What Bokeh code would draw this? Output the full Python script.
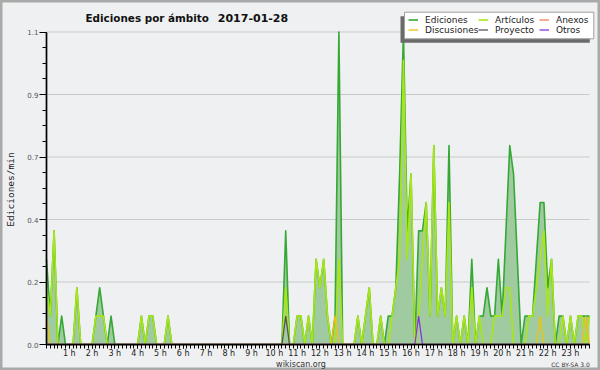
import math
from bokeh.plotting import figure
from bokeh.models import (Range1d, FixedTicker, Legend, LegendItem, Label,
                          ColumnDataSource)
from bokeh.embed import file_html
from bokeh.resources import INLINE

# ---------------- data (Ediciones/min, one value per 10-minute slot) ----------------
title_text = "Ediciones por ámbito"
date_text = "2017-01-28"
y_axis_label = "Ediciones/min"
footer_site = "wikiscan.org"
footer_license = "CC BY-SA 3.0"

slot_minutes = list(range(0, 1440, 10))  # 144 ten-minute slots

ediciones = [
    0.3, 0.1, 0.4, 0.0, 0.1, 0.0,  0.0, 0.0, 0.2, 0.0, 0.0, 0.0,   # 0h-1h
    0.0, 0.1, 0.2, 0.1, 0.0, 0.1,  0.0, 0.0, 0.0, 0.0, 0.0, 0.0,   # 2h-3h
    0.0, 0.1, 0.0, 0.1, 0.1, 0.0,  0.0, 0.0, 0.1, 0.0, 0.0, 0.0,   # 4h-5h
    0.0, 0.0, 0.0, 0.0, 0.0, 0.0,  0.0, 0.0, 0.0, 0.0, 0.0, 0.0,   # 6h-7h
    0.0, 0.0, 0.0, 0.0, 0.0, 0.0,  0.0, 0.0, 0.0, 0.0, 0.0, 0.0,   # 8h-9h
    0.0, 0.0, 0.0, 0.4, 0.0, 0.0,  0.1, 0.1, 0.0, 0.1, 0.0, 0.3,   # 10h-11h
    0.2, 0.3, 0.1, 0.0, 0.1, 1.1,  0.0, 0.0, 0.0, 0.0, 0.1, 0.0,   # 12h-13h
    0.1, 0.2, 0.0, 0.0, 0.1, 0.0,  0.1, 0.1, 0.2, 0.6, 1.1, 0.4,   # 14h-15h
    0.6, 0.0, 0.4, 0.4, 0.5, 0.1,  0.7, 0.1, 0.2, 0.1, 0.7, 0.0,   # 16h-17h
    0.1, 0.0, 0.1, 0.0, 0.3, 0.0,  0.1, 0.1, 0.2, 0.1, 0.1, 0.3,   # 18h-19h
    0.1, 0.4, 0.7, 0.6, 0.3, 0.0,  0.1, 0.1, 0.1, 0.3, 0.5, 0.5,   # 20h-21h
    0.2, 0.3, 0.0, 0.1, 0.1, 0.0,  0.1, 0.0, 0.1, 0.1, 0.1, 0.1,   # 22h-23h
]

articulos = [
    0.2, 0.1, 0.4, 0.0, 0.0, 0.0,  0.0, 0.0, 0.2, 0.0, 0.0, 0.0,
    0.0, 0.1, 0.1, 0.1, 0.0, 0.0,  0.0, 0.0, 0.0, 0.0, 0.0, 0.0,
    0.0, 0.1, 0.0, 0.1, 0.1, 0.0,  0.0, 0.0, 0.1, 0.0, 0.0, 0.0,
    0.0, 0.0, 0.0, 0.0, 0.0, 0.0,  0.0, 0.0, 0.0, 0.0, 0.0, 0.0,
    0.0, 0.0, 0.0, 0.0, 0.0, 0.0,  0.0, 0.0, 0.0, 0.0, 0.0, 0.0,
    0.0, 0.0, 0.0, 0.2, 0.0, 0.0,  0.1, 0.1, 0.0, 0.1, 0.0, 0.3,
    0.2, 0.3, 0.1, 0.0, 0.0, 0.3,  0.0, 0.0, 0.0, 0.0, 0.1, 0.0,
    0.1, 0.2, 0.0, 0.0, 0.1, 0.0,  0.0, 0.1, 0.2, 0.3, 1.0, 0.3,
    0.6, 0.0, 0.1, 0.3, 0.5, 0.1,  0.7, 0.1, 0.2, 0.1, 0.5, 0.0,
    0.1, 0.0, 0.1, 0.0, 0.2, 0.0,  0.1, 0.0, 0.0, 0.0, 0.1, 0.1,
    0.1, 0.2, 0.2, 0.0, 0.0, 0.0,  0.0, 0.1, 0.1, 0.2, 0.3, 0.4,
    0.1, 0.3, 0.0, 0.0, 0.1, 0.0,  0.1, 0.0, 0.1, 0.1, 0.0, 0.1,
]

anexos = [
    0, 0, 0, 0, 0, 0,  0, 0, 0, 0, 0, 0,
    0, 0, 0, 0, 0, 0,  0, 0, 0, 0, 0, 0,
    0, 0, 0, 0, 0, 0,  0, 0, 0, 0, 0, 0,
    0, 0, 0, 0, 0, 0,  0, 0, 0, 0, 0, 0,
    0, 0, 0, 0, 0, 0,  0, 0, 0, 0, 0, 0,
    0, 0, 0, 0, 0, 0,  0, 0, 0, 0, 0, 0,
    0, 0, 0, 0, 0, 0,  0, 0, 0, 0, 0, 0,
    0, 0, 0, 0, 0, 0,  0, 0, 0, 0, 0, 0,
    0, 0, 0, 0, 0, 0,  0, 0, 0, 0, 0, 0,
    0, 0, 0, 0, 0, 0,  0, 0, 0, 0, 0, 0,
    0, 0, 0, 0, 0, 0,  0, 0, 0, 0, 0, 0,
    0, 0, 0, 0, 0, 0,  0, 0, 0, 0, 0, 0,
]

discusiones = [
    0.1, 0, 0, 0, 0, 0,  0, 0, 0, 0, 0, 0,
    0, 0, 0, 0, 0, 0,  0, 0, 0, 0, 0, 0,
    0, 0, 0, 0, 0, 0,  0, 0, 0, 0, 0, 0,
    0, 0, 0, 0, 0, 0,  0, 0, 0, 0, 0, 0,
    0, 0, 0, 0, 0, 0,  0, 0, 0, 0, 0, 0,
    0, 0, 0, 0, 0, 0,  0, 0, 0, 0, 0, 0,
    0, 0, 0, 0, 0.1, 0,  0, 0, 0, 0, 0, 0,
    0, 0, 0, 0, 0, 0,  0, 0, 0, 0, 0, 0,
    0, 0, 0, 0, 0, 0,  0, 0, 0, 0, 0, 0,
    0, 0, 0, 0, 0, 0,  0, 0, 0, 0, 0, 0,
    0, 0, 0, 0, 0, 0,  0, 0, 0, 0, 0.1, 0,
    0, 0, 0, 0, 0, 0,  0, 0, 0, 0, 0.1, 0,
]

proyecto = [
    0, 0, 0, 0, 0, 0,  0, 0, 0, 0, 0, 0,
    0, 0, 0, 0, 0, 0,  0, 0, 0, 0, 0, 0,
    0, 0, 0, 0, 0, 0,  0, 0, 0, 0, 0, 0,
    0, 0, 0, 0, 0, 0,  0, 0, 0, 0, 0, 0,
    0, 0, 0, 0, 0, 0,  0, 0, 0, 0, 0, 0,
    0, 0, 0, 0.1, 0, 0,  0, 0, 0, 0, 0, 0,
    0, 0, 0, 0, 0, 0,  0, 0, 0, 0, 0, 0,
    0, 0, 0, 0, 0, 0,  0, 0, 0, 0, 0, 0,
    0, 0, 0, 0, 0, 0,  0, 0, 0, 0, 0, 0,
    0, 0, 0, 0, 0, 0,  0, 0, 0, 0, 0, 0,
    0, 0, 0, 0, 0, 0,  0, 0, 0, 0, 0, 0,
    0, 0, 0, 0, 0, 0,  0, 0, 0, 0, 0, 0,
]

otros = [
    0, 0, 0, 0, 0, 0,  0, 0, 0, 0, 0, 0,
    0, 0, 0, 0, 0, 0,  0, 0, 0, 0, 0, 0,
    0, 0, 0, 0, 0, 0,  0, 0, 0, 0, 0, 0,
    0, 0, 0, 0, 0, 0,  0, 0, 0, 0, 0, 0,
    0, 0, 0, 0, 0, 0,  0, 0, 0, 0, 0, 0,
    0, 0, 0, 0, 0, 0,  0, 0, 0, 0, 0, 0,
    0, 0, 0, 0, 0, 0,  0, 0, 0, 0, 0, 0,
    0, 0, 0, 0, 0, 0,  0, 0, 0, 0, 0, 0,
    0, 0, 0.1, 0, 0, 0,  0, 0, 0, 0, 0, 0,
    0, 0, 0, 0, 0, 0,  0, 0, 0, 0, 0, 0,
    0, 0, 0, 0, 0, 0,  0, 0, 0, 0, 0, 0,
    0, 0, 0, 0, 0, 0,  0, 0, 0, 0, 0, 0,
]

hour_ticks = list(range(1, 24))
hour_labels = ["1 h", "2 h", "3 h", "4 h", "5 h", "6 h", "7 h", "8 h", "9 h", "10 h",
               "11 h", "12 h", "13 h", "14 h", "15 h", "16 h", "17 h", "18 h", "19 h",
               "20 h", "21 h", "22 h", "23 h"]
y_ticks = [0.0, 0.22, 0.44, 0.66, 0.88, 1.1]
y_labels = ["0.0", "0.2", "0.4", "0.7", "0.9", "1.1"]

legend_columns = [["Ediciones", "Discusiones"], ["Artículos", "Proyecto"], ["Anexos", "Otros"]]

# ---------------- layout constants (canvas pixels) ----------------
W, H = 600, 370
X0_PIX, XL_PIX = 46, 589      # pixel of first / last slot
Y0_PIX, YT_PIX = 344, 31.5    # pixel of y = 0 / y = top tick
BG = "#eff0f1"

hours = [m / 60 for m in slot_minutes]
x_last = hours[-1]
y_max = y_ticks[-1]
pxx = (XL_PIX - X0_PIX) / x_last          # px per hour
pxy = (Y0_PIX - YT_PIX) / y_max           # px per (edit/min)


def dx(cx):   # canvas x -> data x
    return (cx - X0_PIX) / pxx


def dy(cy):   # canvas y -> data y
    return (Y0_PIX - cy) / pxy


def sx(cx):   # canvas x -> screen units
    return cx


def sy(cy):
    return H - cy


src = ColumnDataSource(dict(x=hours, e=ediciones, a=articulos, an=anexos,
                            d=discusiones, p=proyecto, o=otros))

p = figure(width=W, height=H, output_backend="svg", toolbar_location=None,
           x_range=Range1d(dx(0), dx(W)), y_range=Range1d(dy(H), dy(0)),
           min_border_left=0, min_border_right=0, min_border_top=0, min_border_bottom=0)
p.background_fill_color = BG
p.border_fill_color = BG
p.outline_line_color = "#a9a9a9"
p.outline_line_width = 4
p.xgrid.visible = False
p.ygrid.visible = False

# horizontal grid lines (at labelled ticks)
grid_y = y_ticks[1:]
p.segment(x0=[hours[0]] * len(grid_y), x1=[x_last] * len(grid_y), y0=grid_y, y1=grid_y,
          line_color="#c9c9c9", line_width=1)

# area under Ediciones
p.varea(x="x", y1=0, y2="e", source=src, fill_color="#a0cba0", fill_alpha=1.0)

colors = {"Ediciones": "#35a835", "Artículos": "#a8e614", "Anexos": "#ee7744",
          "Discusiones": "#f0c20a", "Proyecto": "#555555", "Otros": "#8a35dd"}
renderers = {}
renderers["Ediciones"] = p.line("x", "e", source=src, line_color=colors["Ediciones"],
                                line_width=1.6, line_join="round")
renderers["Artículos"] = p.line("x", "a", source=src, line_color=colors["Artículos"],
                                line_width=1.6, line_join="round")
renderers["Anexos"] = p.line("x", "an", source=src, line_color=colors["Anexos"], line_width=1.2)
renderers["Discusiones"] = p.line("x", "d", source=src, line_color=colors["Discusiones"], line_width=1.3)
renderers["Proyecto"] = p.line("x", "p", source=src, line_color=colors["Proyecto"], line_width=1.3)
renderers["Otros"] = p.line("x", "o", source=src, line_color=colors["Otros"], line_width=1.3)

# axes drawn at fixed data locations (inside the full-canvas frame)
xa = p.xaxis[0]
xa.fixed_location = 0
xa.ticker = FixedTicker(ticks=hour_ticks, minor_ticks=hours)
xa.major_label_overrides = dict(zip(hour_ticks, hour_labels))
xa.bounds = (0, x_last)
xa.major_tick_in = 0
xa.minor_tick_in = 0
xa.major_tick_out = 4
xa.minor_tick_out = 4
xa.major_label_standoff = 0
xa.major_label_text_font = "DejaVu Sans"
xa.major_label_text_font_size = "8px"
xa.major_label_text_color = "#222222"

ya = p.yaxis[0]
ya.fixed_location = 0
ya.ticker = FixedTicker(ticks=y_ticks, minor_ticks=[k * 0.055 for k in range(21)])
ya.major_label_overrides = dict(zip(y_ticks, y_labels))
ya.bounds = (0, y_max)
ya.major_tick_in = 0
ya.minor_tick_in = 0
ya.major_tick_out = 7
ya.minor_tick_out = 4
ya.major_label_standoff = 1
ya.major_label_text_font = "DejaVu Sans"
ya.major_label_text_font_size = "7px"
ya.major_label_text_color = "#555555"

for ax in (xa, ya):
    ax.axis_line_color = "black"
    ax.axis_line_width = 1.7
    ax.major_tick_line_color = "black"
    ax.minor_tick_line_color = "black"

# legend shadow and box
p.quad(left=[dx(400)], right=[dx(589.3)], top=[dy(15.7)], bottom=[dy(42.3)],
       fill_color="#6a6a6a", line_color=None)
p.quad(left=[dx(404)], right=[dx(593.3)], top=[dy(11.7)], bottom=[dy(38.3)],
       fill_color="white", line_color="#a0a0a0", line_width=1)

col_left = [408, 478, 539]
for names, cl in zip(legend_columns, col_left):
    lg = Legend(items=[LegendItem(label=n, renderers=[renderers[n]]) for n in names],
                location=(sx(cl), sy(34.8)),
                label_text_font="DejaVu Sans", label_text_font_size="9px",
                label_text_color="#222222", glyph_width=10, glyph_height=9,
                label_height=9, label_standoff=7, spacing=0, padding=0, margin=0,
                border_line_color=None, background_fill_alpha=0.0)
    p.add_layout(lg)

# texts
p.add_layout(Label(x=sx(85), y=sy(17.3), text=title_text, x_units="screen", y_units="screen",
                   text_font="DejaVu Sans", text_font_style="bold", text_font_size="10.4px",
                   text_color="#111111", text_align="left", text_baseline="alphabetic"))
p.add_layout(Label(x=sx(217.3), y=sy(17.3), text=date_text, x_units="screen", y_units="screen",
                   text_font="DejaVu Sans", text_font_style="bold", text_font_size="11px",
                   text_color="#111111", text_align="left", text_baseline="alphabetic"))
p.add_layout(Label(x=sx(10), y=sy(189), text=y_axis_label, x_units="screen", y_units="screen",
                   angle=math.pi / 2, text_font="DejaVu Sans Mono", text_font_size="9.5px",
                   text_color="#222222", text_align="center", text_baseline="middle"))
p.add_layout(Label(x=sx(300.5), y=sy(364), text=footer_site, x_units="screen", y_units="screen",
                   text_font="DejaVu Sans", text_font_size="8px", text_color="#333333",
                   text_align="center", text_baseline="alphabetic"))
p.add_layout(Label(x=sx(589.3), y=sy(364), text=footer_license, x_units="screen", y_units="screen",
                   text_font="DejaVu Sans", text_font_size="6px", text_color="#333333",
                   text_align="right", text_baseline="alphabetic"))

open("out.html", "w").write(file_html(p, INLINE))
